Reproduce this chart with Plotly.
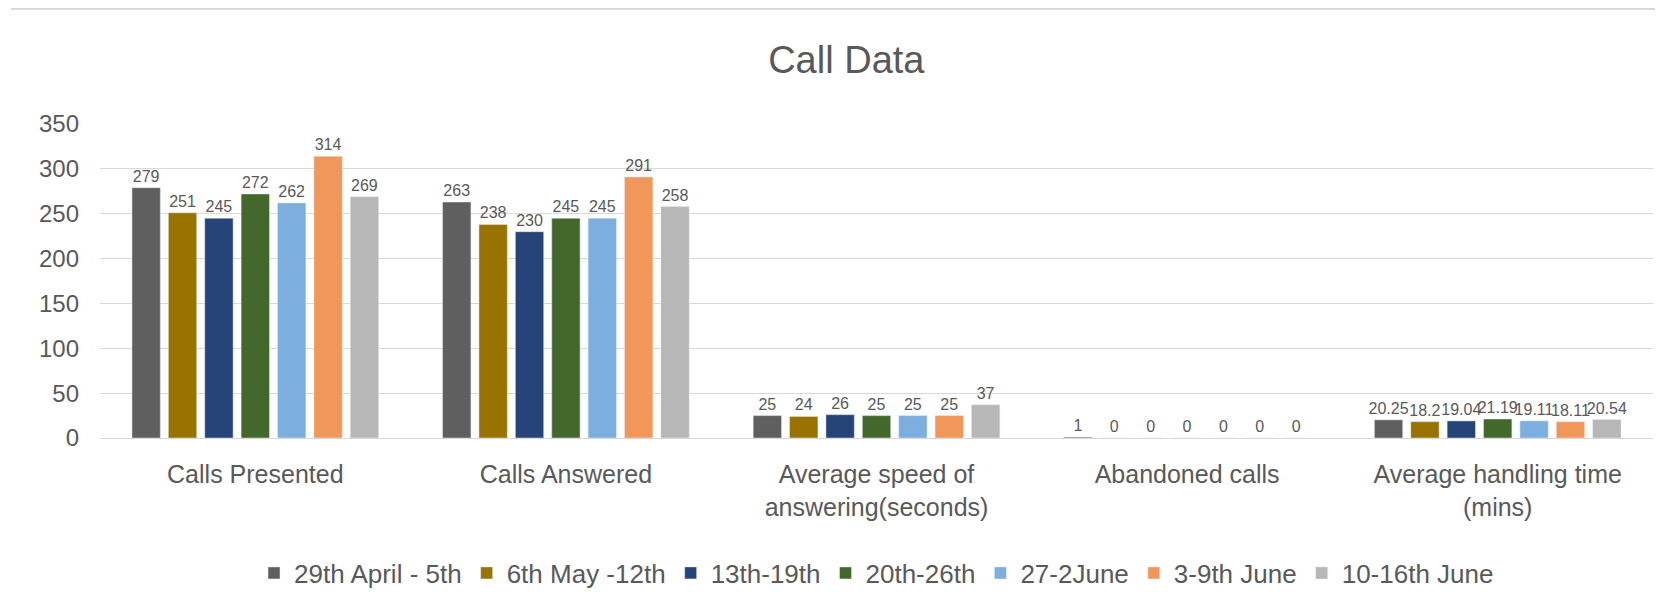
import plotly.graph_objects as go

categories = ["Calls Presented", "Calls Answered", "Average speed of<br>answering(seconds)",
              "Abandoned calls", "Average handling time<br>(mins)"]
series_names = ["29th April - 5th", "6th May -12th", "13th-19th", "20th-26th",
                "27-2June", "3-9th June", "10-16th June"]
s1 = [279, 263, 25, 1, 20.25]
s2 = [251, 238, 24, 0, 18.2]
s3 = [245, 230, 26, 0, 19.04]
s4 = [272, 245, 25, 0, 21.19]
s5 = [262, 245, 25, 0, 19.11]
s6 = [314, 291, 25, 0, 18.11]
s7 = [269, 258, 37, 0, 20.54]
series_values = [s1, s2, s3, s4, s5, s6, s7]
colors = ["#5f5f5f", "#997300", "#264478", "#43682b", "#7cafdd", "#f1975a", "#b7b7b7"]

font_family = "Liberation Sans, Arial, sans-serif"

W, H = 1647, 599
L, R, T, B = 92, 2, 116, 169
plot_w = W - L - R
plot_h = H - T - B

fig = go.Figure()
for name, vals, c in zip(series_names, series_values, colors):
    fig.add_trace(go.Bar(
        x=categories, y=vals, name=name, marker_color=c,
        text=[f"{v:g}" for v in vals], textposition="outside",
        textfont=dict(size=16, color="#595959", family=font_family),
        cliponaxis=False, constraintext="none",
    ))

fig.update_layout(
    width=W, height=H,
    barmode="group", bargap=0.18, bargroupgap=0.22,
    plot_bgcolor="white", paper_bgcolor="white",
    margin=dict(l=L, r=R, t=T, b=B, autoexpand=False),
    title=dict(text="Call Data", x=0.509, xanchor="center", y=1 - 52 / H, yanchor="middle",
               font=dict(size=38, color="#595959", family=font_family)),
    font=dict(family=font_family, color="#595959"),
    xaxis=dict(tickfont=dict(size=25, color="#595959"), showline=True,
               linecolor="#d9d9d9", linewidth=1, ticks="", ticklabelstandoff=14),
    yaxis=dict(range=[0, 350], dtick=50, showgrid=True, gridcolor="#d9d9d9",
               tickfont=dict(size=24, color="#595959"), zeroline=False, ticks="",
               ticklabelstandoff=20),
    legend=dict(orientation="h", x=0.5, xanchor="center", y=-135 / plot_h, yanchor="middle",
                font=dict(size=26, color="#595959"), traceorder="normal",
                itemwidth=30),
    shapes=[dict(type="line", xref="paper", yref="paper",
                 x0=(3 - L) / plot_w, x1=1 + R / plot_w,
                 y0=1 + (T - 1) / plot_h, y1=1 + (T - 1) / plot_h,
                 line=dict(color="#d9d9d9", width=2))],
)

fig.write_html("out.html")
